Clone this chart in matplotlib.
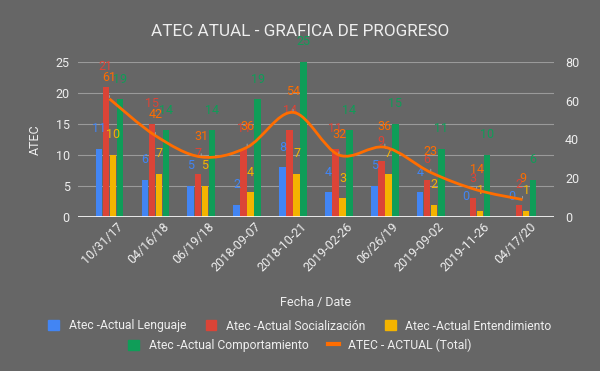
import matplotlib
matplotlib.use("Agg")
import matplotlib.pyplot as plt
from matplotlib.path import Path
from matplotlib.patches import PathPatch, Patch
from matplotlib.lines import Line2D
import numpy as np

plt.rcParams['font.family'] = ['Roboto', 'DejaVu Sans']

# datos
fechas = ["10/31/17", "04/16/18", "06/19/18", "2018-09-07", "2018-10-21",
          "2019-02-26", "06/26/19", "2019-09-02", "2019-11-26", "04/17/20"]
lenguaje = [11, 6, 5, 2, 8, 4, 5, 4, 0, 0]
socializacion = [21, 15, 7, 11, 14, 11, 9, 6, 3, 2]
entendimiento = [10, 7, 5, 4, 7, 3, 7, 2, 1, 1]
comportamiento = [19, 14, 14, 19, 25, 14, 15, 11, 10, 6]
total = [61, 42, 31, 36, 54, 32, 36, 23, 14, 9]

series = [
    ("Atec -Actual Lenguaje", lenguaje, "#4285F4"),
    ("Atec -Actual Socialización", socializacion, "#DB4437"),
    ("Atec -Actual Entendimiento", entendimiento, "#F4B400"),
    ("Atec -Actual Comportamiento", comportamiento, "#0F9D58"),
]
line_color = "#FF6D00"
bg = "#666666"
txt = "#EEEEEE"

fig = plt.figure(figsize=(6, 3.71), dpi=100, facecolor=bg)
ax = fig.add_axes([78 / 600, 1 - 217 / 371, 476 / 600, 155 / 371])
ax.set_facecolor(bg)
ax2 = ax.twinx()

x = np.arange(len(fechas))
step = 0.153
w = 0.14
for i, (name, vals, col) in enumerate(series):
    xs = x + (i - 1.5) * step
    ax.bar(xs, vals, width=w, color=col, zorder=3)
    for xi, v in zip(xs, vals):
        ax.annotate(str(v), (xi, v), xytext=(0, 14.5), textcoords="offset points",
                    ha="center", va="center", color=col, fontsize=9, zorder=4)

ax.set_xlim(-0.685, 9.685)
ax.set_ylim(0, 25)
ax.set_yticks([0, 5, 10, 15, 20, 25])
ax.grid(axis="y", color="#9A9A9A", linewidth=0.8, zorder=0)
ax.set_axisbelow(True)
ax.axhline(0, color="white", linewidth=1.2, zorder=5)
for s in ax.spines.values():
    s.set_visible(False)
for s in ax2.spines.values():
    s.set_visible(False)
ax.tick_params(axis="y", length=0, colors=txt, labelsize=9, pad=6)
ax.tick_params(axis="x", length=0, colors=txt, labelsize=9, pad=2)
ax.set_xticks(x + 0.15)
ax.set_xticklabels(fechas, rotation=45, ha="right", rotation_mode="anchor")
ax.set_ylabel("ATEC", color=txt, fontsize=9, labelpad=10)
ax.set_xlabel("Fecha / Date", color=txt, fontsize=9, labelpad=16)

# linea suavizada (bezier tipo catmull-rom)
ax2.set_ylim(0, 80)
ax2.set_yticks([0, 20, 40, 60, 80])
ax2.tick_params(axis="y", length=0, colors=txt, labelsize=9, pad=8)
ty = np.array(total, dtype=float)
verts = [(x[0], ty[0])]
codes = [Path.MOVETO]
n = len(x)
for k in range(n - 1):
    p0 = (x[max(k - 1, 0)], ty[max(k - 1, 0)])
    p1 = (x[k], ty[k])
    p2 = (x[k + 1], ty[k + 1])
    p3 = (x[min(k + 2, n - 1)], ty[min(k + 2, n - 1)])
    c1 = (p1[0] + (p2[0] - p0[0]) / 6, p1[1] + (p2[1] - p0[1]) / 6)
    c2 = (p2[0] - (p3[0] - p1[0]) / 6, p2[1] - (p3[1] - p1[1]) / 6)
    verts += [c1, c2, p2]
    codes += [Path.CURVE4] * 3
ax2.add_patch(PathPatch(Path(verts, codes), facecolor="none", edgecolor=line_color,
                        linewidth=2, zorder=6))
for xi, v in zip(x, total):
    ax2.annotate(str(v), (xi, v), xytext=(0, 15), textcoords="offset points",
                 ha="center", va="center", color=line_color, fontsize=9, zorder=7,
                 arrowprops=dict(arrowstyle="-", color="#A0A0A0", lw=0.7,
                                 shrinkA=6, shrinkB=1))

fig.suptitle("ATEC ATUAL - GRAFICA DE PROGRESO", color=txt, fontsize=12.3, y=1 - 32 / 371,
             va="center")

# leyenda en dos filas
h1 = [Patch(color=c) for _, _, c in series[:3]]
l1 = [nm for nm, _, _ in series[:3]]
h2 = [Patch(color=series[3][2]), Line2D([], [], color=line_color, lw=3)]
l2 = [series[3][0], "ATEC - ACTUAL (Total)"]
kw = dict(frameon=False, labelcolor=txt, fontsize=8.7, handlelength=0.9, handleheight=0.9,
          handletextpad=0.8, columnspacing=1.6, loc="center")
fig.legend(h1, l1, ncol=3, bbox_to_anchor=(0.5, 1 - 326 / 371), **kw)
fig.legend(h2, l2, ncol=2, bbox_to_anchor=(0.5, 1 - 345 / 371), **kw)

fig.savefig("out.png", dpi=100, facecolor=bg)
